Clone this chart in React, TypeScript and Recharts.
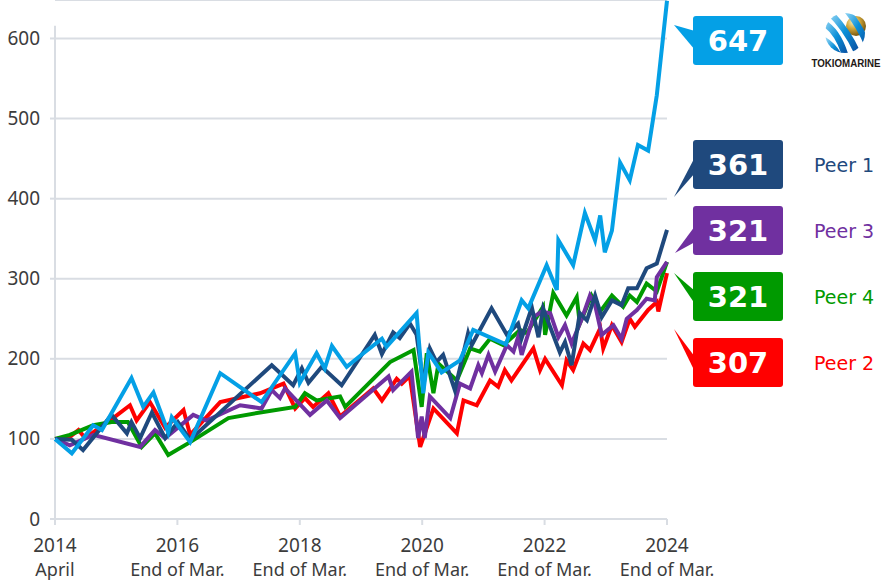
import React from 'react';
import { LineChart, Line, XAxis, YAxis, CartesianGrid, ReferenceLine, Customized } from 'recharts';

// x = months since April 2014
const xTicks = [0, 24, 48, 72, 96, 120];
const xTickYears = ['2014', '2016', '2018', '2020', '2022', '2024'];
const xTickSubs = ['April', 'End of Mar.', 'End of Mar.', 'End of Mar.', 'End of Mar.', 'End of Mar.'];
const yTicks = [0, 100, 200, 300, 400, 500, 600];

const tmMonths = [0, 3.3, 7.5, 9.2, 15, 17.3, 19.3, 22.2, 22.9, 26.5, 32.4, 40.5, 47.1, 48, 51.3, 52.9, 54.3, 57.2, 60.1, 64.1, 65, 70.9, 72.2, 73.2, 75.8, 79.4, 82, 88.4, 91.5, 92.8, 96.4, 98.4, 98.7, 101.6, 103.9, 105.9, 106.9, 107.8, 109.2, 110.8, 112.7, 114.3, 116.3, 118, 120];
const tmValues = [100, 82, 117, 111, 176, 140, 158, 108, 127, 96, 182, 146, 207, 170, 207, 188, 216, 190, 205, 225, 215, 257, 157, 208, 183, 198, 236, 218, 273, 263, 317, 286, 348, 317, 382, 348, 379, 333, 360, 445, 423, 467, 460, 529, 647];

const peer1Months = [0, 3.3, 5.5, 11.1, 14.1, 15, 16.7, 19, 21.6, 24.1, 26.5, 42.5, 46.7, 48.4, 49.7, 52.3, 56.2, 62.7, 64.1, 66.3, 67.6, 69.6, 70.9, 72.2, 73.5, 74.8, 76.1, 78.4, 81, 81.7, 85.6, 88.6, 90.8, 91.5, 93.5, 94.8, 95.7, 99, 100, 101.3, 102.9, 104.3, 105.9, 107.2, 109.2, 111.1, 112.4, 114.1, 116, 118, 120];
const peer1Values = [100, 99, 86, 130, 107, 121, 101, 133, 101, 121, 99, 192, 167, 188, 170, 190, 167, 230, 206, 233, 226, 244, 230, 170, 213, 196, 205, 161, 232, 217, 263, 230, 244, 226, 264, 227, 263, 208, 221, 192, 257, 248, 279, 252, 273, 267, 288, 288, 313, 319, 361];

const peer4Months = [0, 2.9, 7.5, 11.1, 14.3, 17, 19.6, 22.2, 26.5, 34, 40.2, 47.1, 49, 51.3, 55.9, 56.9, 65.7, 70.3, 71.9, 72.9, 74.2, 75.2, 78.8, 81.4, 83.3, 85.3, 87.9, 91.2, 92.5, 95.7, 96.1, 97.7, 100.3, 102.3, 102.9, 105.2, 106.9, 109.2, 111.4, 112.7, 114.1, 116, 118, 120];
const peer4Values = [100, 105, 117, 121, 121, 90, 107, 80, 96, 126, 133, 140, 157, 148, 153, 140, 196, 211, 140, 207, 157, 194, 173, 213, 209, 225, 217, 236, 232, 265, 230, 282, 254, 277, 244, 279, 259, 279, 265, 279, 271, 294, 284, 321];

const peer2Months = [0, 2.6, 4.6, 5.9, 11.4, 14.7, 16, 18.6, 21.6, 25.2, 26.5, 32.4, 40.2, 44.8, 47.1, 49, 50.6, 53.6, 55.9, 62.4, 64.1, 67, 68, 69, 69.6, 71.6, 74.2, 78.8, 80.1, 82.7, 85.3, 86.9, 88.2, 89.5, 93.8, 95.1, 96.1, 99.4, 100.3, 101.6, 103.6, 104.9, 106.9, 107.5, 109.2, 111.1, 112.7, 113.7, 116.3, 118, 118.3, 120];
const peer2Values = [100, 101, 111, 101, 126, 142, 123, 146, 114, 136, 105, 146, 157, 169, 138, 151, 140, 157, 128, 163, 148, 175, 169, 175, 177, 90, 138, 107, 148, 142, 173, 165, 186, 173, 213, 186, 200, 167, 198, 186, 219, 211, 238, 213, 242, 221, 250, 240, 261, 271, 259, 307];

const peer3Months = [0, 2.9, 7.5, 16.7, 19.6, 21.6, 27.1, 29.7, 36.3, 40.5, 42.5, 44.1, 45.1, 50, 53.3, 55.9, 65.4, 66.3, 69.9, 71.2, 71.9, 72.5, 73.5, 77.5, 79.4, 81.4, 83, 83.7, 85, 86.3, 88.6, 89.9, 90.8, 91.5, 93.8, 95.4, 97.1, 98.7, 100, 101.3, 103.3, 104.9, 105.9, 107.2, 109.5, 111.1, 112.1, 114.1, 116, 117.6, 118, 120];
const peer3Values = [100, 92, 105, 90, 111, 101, 130, 123, 142, 138, 161, 151, 163, 130, 148, 126, 178, 161, 184, 101, 128, 101, 153, 126, 169, 163, 192, 182, 205, 184, 217, 209, 227, 205, 252, 259, 257, 227, 242, 219, 250, 279, 267, 230, 242, 225, 250, 261, 275, 273, 302, 321];

const seriesNames = ['Tokio Marine', 'Peer 1', 'Peer 3', 'Peer 4', 'Peer 2'];

const zip = (ms: number[], vs: number[]) => ms.slice(0, Math.min(ms.length, vs.length)).map((m, i) => ({ m, v: vs[i] }));

const tmData = zip(tmMonths, tmValues);
const peer1Data = zip(peer1Months, peer1Values);
const peer2Data = zip(peer2Months, peer2Values);
const peer3Data = zip(peer3Months, peer3Values);
const peer4Data = zip(peer4Months, peer4Values);

const C_TM = '#04a0e6';
const C_P1 = '#1f497d';
const C_P3 = '#7030a0';
const C_P4 = '#009a00';
const C_P2 = '#ff0000';
const GRID = '#d9dde3';
const TXT = '#3c3c3c';

const lastVal = (d: { v: number }[]) => Math.round(d[d.length - 1].v);

const XTick = (props: any) => {
  const { x, payload } = props;
  const i = xTicks.indexOf(payload.value);
  return (
    <g>
      <text x={x} y={552} textAnchor="middle" fontSize={19} fontFamily="Noto Sans" fill={TXT}>{xTickYears[i]}</text>
      <text x={x} y={576} textAnchor="middle" fontSize={18} fontFamily="Noto Sans" fill={TXT}>{xTickSubs[i]}</text>
    </g>
  );
};

const YTick = (props: any) => {
  const { x, y, payload } = props;
  return (
    <text x={x} y={y} dy={6.5} textAnchor="end" fontSize={19} fontFamily="Noto Sans" fill={TXT}>
      {payload.value}
    </text>
  );
};

const Callout = ({ top, color, value, label, tri }: { top: number; color: string; value: number; label?: string; tri: number[][] }) => (
  <g>
    <polygon points={tri.map((p) => p.join(',')).join(' ')} fill={color} />
    <rect x={693} y={top} width={90} height={49} rx={3} fill={color} />
    <text x={738} y={top + 35} textAnchor="middle" fontSize={29} fontWeight="bold" fontFamily="DejaVu Sans" fill="#ffffff">{value}</text>
    {label ? (
      <text x={814} y={top + 25} dominantBaseline="central" fontSize={19} fontFamily="DejaVu Sans" fill={color}>{label}</text>
    ) : null}
  </g>
);

const Logo = () => (
  <g>
    <defs>
      <radialGradient id="goldg" cx="35%" cy="30%" r="75%">
        <stop offset="0" stopColor="#fbeeb8" />
        <stop offset="0.45" stopColor="#d0a63a" />
        <stop offset="1" stopColor="#6e4f0c" />
      </radialGradient>
      <linearGradient id="blueg" x1="0" y1="0" x2="1" y2="1">
        <stop offset="0" stopColor="#9ad9f6" />
        <stop offset="0.5" stopColor="#0b90d8" />
        <stop offset="1" stopColor="#0a4c9e" />
      </linearGradient>
      <clipPath id="globeClip">
        <circle cx={845} cy={33} r={20} />
      </clipPath>
    </defs>
    <circle cx={856} cy={26} r={10} fill="url(#goldg)" />
    <g clipPath="url(#globeClip)" fill="none" stroke="url(#blueg)" strokeWidth={6.5}>
      <path d="M822,22 Q838,30 846,58" />
      <path d="M829,12 Q846,28 858,54" />
      <path d="M824,40 Q834,46 840,58" />
      <path d="M846,9 Q860,26 868,46" />
    </g>
    <text x={846} y={67} textAnchor="middle" fontSize={10} fontWeight="bold" fontFamily="Liberation Sans Narrow, Liberation Sans" fill="#231815" textLength={69} lengthAdjust="spacingAndGlyphs">TOKIOMARINE</text>
  </g>
);

const Overlay = () => (
  <g>
    <Callout top={16} color={C_TM} value={lastVal(tmData)} tri={[[674, 25], [695, 31], [695, 50]]} />
    <Callout top={140} color={C_P1} value={lastVal(peer1Data)} label={seriesNames[1]} tri={[[674, 197], [695, 157], [695, 173]]} />
    <Callout top={206} color={C_P3} value={lastVal(peer3Data)} label={seriesNames[2]} tri={[[675, 253], [695, 226], [695, 242]]} />
    <Callout top={272} color={C_P4} value={lastVal(peer4Data)} label={seriesNames[3]} tri={[[674, 273], [695, 291], [695, 304]]} />
    <Callout top={338} color={C_P2} value={lastVal(peer2Data)} label={seriesNames[4]} tri={[[674, 329], [695, 357], [695, 372]]} />
    <Logo />
  </g>
);

export default function App() {
  return (
    <div style={{ position: 'absolute', left: 0, top: 0, width: 885, height: 580, background: '#ffffff' }}>
      <LineChart width={885} height={580} margin={{ top: 0, right: 218, bottom: 0, left: 0 }}>
        <CartesianGrid vertical={false} stroke={GRID} strokeWidth={2} />
        <XAxis
          type="number"
          dataKey="m"
          domain={[0, 120]}
          ticks={xTicks}
          interval={0}
          height={61}
          stroke={GRID}
          strokeWidth={2}
          tickSize={6}
          tick={<XTick />}
          allowDuplicatedCategory={false}
        />
        <YAxis
          type="number"
          dataKey="v"
          domain={[0, 648]}
          ticks={yTicks}
          interval={0}
          width={55}
          axisLine={false}
          tickLine={{ stroke: GRID, strokeWidth: 2 }}
          tickSize={5}
          tickMargin={10}
          tick={<YTick />}
        />
        <ReferenceLine segment={[{ x: 0, y: 0 }, { x: 0, y: 616 }]} stroke={GRID} strokeWidth={2} />
        <Line data={peer2Data} dataKey="v" name={seriesNames[4]} stroke={C_P2} strokeWidth={4} dot={false} isAnimationActive={false} />
        <Line data={peer4Data} dataKey="v" name={seriesNames[3]} stroke={C_P4} strokeWidth={4} dot={false} isAnimationActive={false} />
        <Line data={peer3Data} dataKey="v" name={seriesNames[2]} stroke={C_P3} strokeWidth={4} dot={false} isAnimationActive={false} />
        <Line data={peer1Data} dataKey="v" name={seriesNames[1]} stroke={C_P1} strokeWidth={4} dot={false} isAnimationActive={false} />
        <Line data={tmData} dataKey="v" name={seriesNames[0]} stroke={C_TM} strokeWidth={4} dot={false} isAnimationActive={false} />
        <Customized component={Overlay} />
      </LineChart>
    </div>
  );
}
